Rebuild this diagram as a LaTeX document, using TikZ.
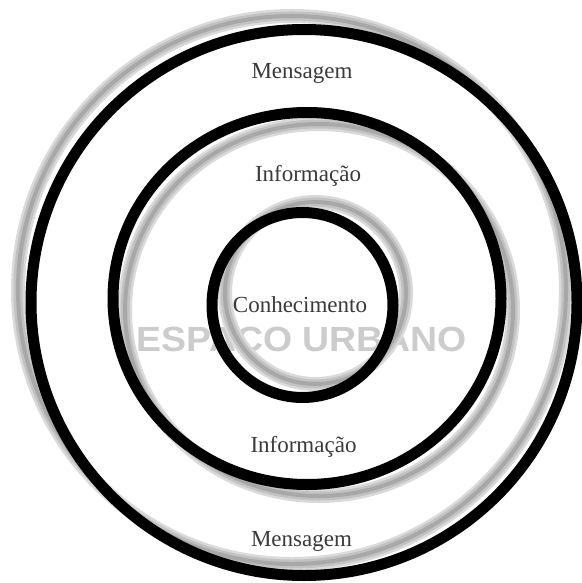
\documentclass[tikz,border=0pt]{standalone}
\usepackage{fontspec}
\setmainfont{Liberation Serif}
\newfontfamily\wmfont{Liberation Sans}
\definecolor{halolight}{HTML}{DADADA}
\definecolor{halomid}{HTML}{C2C2C2}
\definecolor{halodark}{HTML}{A8A8A8}
\definecolor{wmgray}{HTML}{CCCCCC}
\definecolor{lblgray}{HTML}{3A3A3A}
\begin{document}
\begin{tikzpicture}[x=1pt,y=-1pt,
  blackring/.style={draw=black,line width=11pt},
  halowide/.style={draw=halolight,line width=14pt},
  halomiddle/.style={draw=halomid,line width=9pt},
  halonarrow/.style={draw=halodark,line width=4pt},
  lbl/.style={font=\fontsize{23}{23}\selectfont, text=lblgray, anchor=base, inner sep=0pt}]
\useasboundingbox (0,0) rectangle (581,583);
\fill[white] (0,0) rectangle (581,583);
% watermark
\node[font=\wmfont\bfseries\fontsize{35}{35}\selectfont, text=wmgray, xscale=1.07, inner sep=0pt] (wm) at (302,343) {ESPAÇO URBANO};
% halos
\foreach \st in {halowide,halomiddle,halonarrow}{
  \draw[\st] (292,290) circle [radius=274pt];
  \draw[\st] (319,310) circle [x radius=194pt, y radius=186pt];
  \draw[\st] (315.5,293) circle [x radius=90.5pt, y radius=91pt];
}
% black rings
\draw[blackring] (304,302.5) circle [radius=273pt];
\draw[blackring] (307,298.5) circle [x radius=194pt, y radius=186pt];
\draw[blackring] (302.5,305) circle [x radius=90.5pt, y radius=92.5pt];
% labels
\node[lbl] (m1) at (302,79) {Mensagem};
\node[lbl] (i1) at (308,181) {Informação};
\node[lbl] (c)  at (300,312) {Conhecimento};
\node[lbl] (i2) at (303.5,452) {Informação};
\node[lbl] (m2) at (301.5,546) {Mensagem};
\end{tikzpicture}
\end{document}
